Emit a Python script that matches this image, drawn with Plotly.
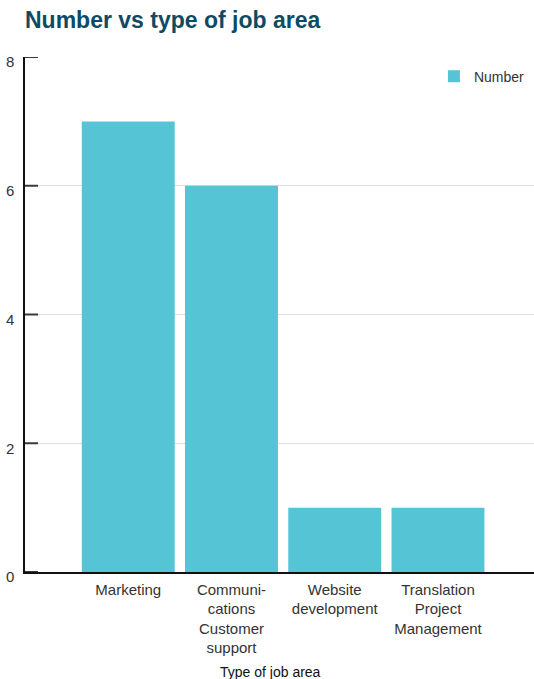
import plotly.graph_objects as go

categories = [
    "Marketing",
    "Communi-<br>cations<br>Customer<br>support",
    "Website<br>development",
    "Translation<br>Project<br>Management",
]
counts = [7, 6, 1, 1]
y_ticks = [0, 2, 4, 6, 8]

BAR_COLOR = "#55C5D6"
TITLE_COLOR = "#0E4B63"
TEXT_COLOR = "#333333"
TICK_COLOR = "#3A3A3A"
FONT = "Liberation Sans, Arial, sans-serif"

fig = go.Figure(
    go.Bar(
        x=categories,
        y=counts,
        name="Number",
        marker=dict(color=BAR_COLOR, line=dict(width=0)),
        showlegend=True,
    )
)

# short tick marks pointing into the plot from the y axis
tick_marks = [
    dict(
        type="line",
        xref="paper",
        yref="y",
        xsizemode="pixel",
        xanchor=0,
        x0=0,
        x1=13,
        y0=v,
        y1=v,
        line=dict(color=TICK_COLOR, width=2),
        layer="above",
    )
    for v in y_ticks
]

fig.update_layout(
    width=534,
    height=679,
    margin=dict(l=25, r=0, t=57, b=107),
    paper_bgcolor="white",
    plot_bgcolor="white",
    font=dict(family=FONT, size=15, color=TEXT_COLOR),
    bargap=0.1,
    title=dict(
        text="<b>Number vs type of job area</b>",
        font=dict(family=FONT, size=23, color=TITLE_COLOR),
        x=25 / 534,
        xanchor="left",
        xref="container",
        y=1 - 20 / 679,
        yanchor="middle",
        yref="container",
    ),
    legend=dict(
        x=0.992,
        y=0.993,
        xanchor="right",
        yanchor="top",
        bgcolor="rgba(0,0,0,0)",
        font=dict(family=FONT, size=14, color=TEXT_COLOR),
        itemwidth=30,
    ),
    shapes=tick_marks,
    annotations=[
        dict(
            text="Type of job area",
            xref="paper",
            yref="paper",
            x=(270 - 25) / 509,
            y=-(672 - 572) / 515,
            xanchor="center",
            yanchor="middle",
            showarrow=False,
            font=dict(family=FONT, size=14, color="#111111"),
        )
    ],
)

fig.update_xaxes(
    type="category",
    range=[-1.0, 3.93],
    showline=True,
    linecolor="#111111",
    linewidth=1.5,
    ticks="",
    showgrid=False,
    tickfont=dict(family=FONT, size=15, color=TEXT_COLOR),
    ticklabelstandoff=3,
    automargin=False,
)

fig.update_yaxes(
    range=[0, 8],
    tickmode="array",
    tickvals=y_ticks,
    showline=True,
    linecolor="#111111",
    linewidth=1.5,
    ticks="",
    showgrid=True,
    gridcolor="#DDDDDD",
    gridwidth=1,
    zeroline=False,
    tickfont=dict(family=FONT, size=15, color=TEXT_COLOR),
    ticklabelshift=5,
    ticklabelstandoff=6,
    automargin=False,
)

fig.write_html("out.html")
